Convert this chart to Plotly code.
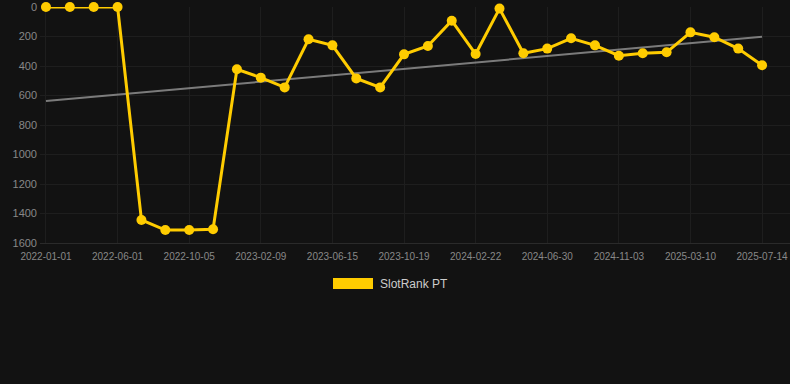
import numpy as np
import plotly.graph_objects as go

dates = [
    "2022-01-01", "2022-02-20", "2022-04-11", "2022-06-01", "2022-07-13", "2022-08-24",
    "2022-10-05", "2022-11-16", "2022-12-29", "2023-02-09", "2023-03-23", "2023-05-04",
    "2023-06-15", "2023-07-27", "2023-09-07", "2023-10-19", "2023-11-30", "2024-01-11",
    "2024-02-22", "2024-04-04", "2024-05-18", "2024-06-30", "2024-08-11", "2024-09-22",
    "2024-11-03", "2024-12-15", "2025-01-26", "2025-03-10", "2025-04-21", "2025-06-02",
    "2025-07-14",
]
rank_pt = [
    0, 0, 0, 0, 1444, 1512, 1512, 1507, 422, 479, 545, 219, 260, 484, 545, 321,
    264, 93, 319, 11, 314, 282, 212, 260, 330, 314, 307, 172, 205, 282, 395,
]
tick_labels = [
    "2022-01-01", "2022-06-01", "2022-10-05", "2023-02-09", "2023-06-15", "2023-10-19",
    "2024-02-22", "2024-06-30", "2024-11-03", "2025-03-10", "2025-07-14",
]
y_ticks = [0, 200, 400, 600, 800, 1000, 1200, 1400, 1600]
series_name = "SlotRank PT"

YELLOW = "#FFCC00"
BG = "#121212"
FONT = "Arial, Liberation Sans, sans-serif"

idx = np.arange(len(rank_pt))
slope, intercept = np.polyfit(idx, rank_pt, 1)
trend = [intercept + slope * idx[0], intercept + slope * idx[-1]]

fig = go.Figure()
fig.add_trace(go.Scatter(
    x=[dates[0], dates[-1]], y=trend, mode="lines",
    line=dict(color="rgba(150,150,150,0.8)", width=2),
    showlegend=False, hoverinfo="skip",
))
fig.add_trace(go.Scatter(
    x=dates, y=rank_pt, mode="lines+markers", name=series_name,
    line=dict(color=YELLOW, width=3),
    marker=dict(color=YELLOW, size=10),
    cliponaxis=False, showlegend=False,
))

# legend (drawn manually to match rectangular swatch)
fig.add_shape(type="rect", xref="paper", yref="paper",
              x0=(333 - 40) / 750, x1=(373 - 40) / 750,
              y0=(243 - 289) / 236, y1=(243 - 278) / 236,
              fillcolor=YELLOW, line=dict(width=0))
fig.add_annotation(xref="paper", yref="paper", x=(378 - 40) / 750, y=(243 - 283.5) / 236,
                   text=series_name, showarrow=False, xanchor="left", yanchor="middle",
                   font=dict(family=FONT, size=12, color="#cccccc"))

fig.update_layout(
    width=790, height=384,
    margin=dict(l=40, r=0, t=7, b=141),
    paper_bgcolor=BG, plot_bgcolor=BG,
    font=dict(family=FONT, color="#888888"),
    showlegend=False,
    xaxis=dict(
        type="category", categoryorder="array", categoryarray=dates,
        range=[-0.25, 31.17],
        tickmode="array", tickvals=tick_labels, ticktext=tick_labels,
        tickfont=dict(size=10, color="#888888"),
        showgrid=True, gridcolor="#1e1e1e", gridwidth=1,
        showline=True, linecolor="#2a2a2a", linewidth=1,
        ticks="", zeroline=False, ticklabelstandoff=4,
    ),
    yaxis=dict(
        range=[1600, 0], tickmode="array", tickvals=y_ticks,
        tickfont=dict(size=11, color="#888888"),
        showgrid=True, gridcolor="#1e1e1e", gridwidth=1,
        zeroline=False, ticks="", ticklabelstandoff=2,
    ),
)

fig.write_html(
    "out.html",
    config={"displayModeBar": False},
    post_script="document.body.style.margin='0';document.body.style.background='#121212';",
)
